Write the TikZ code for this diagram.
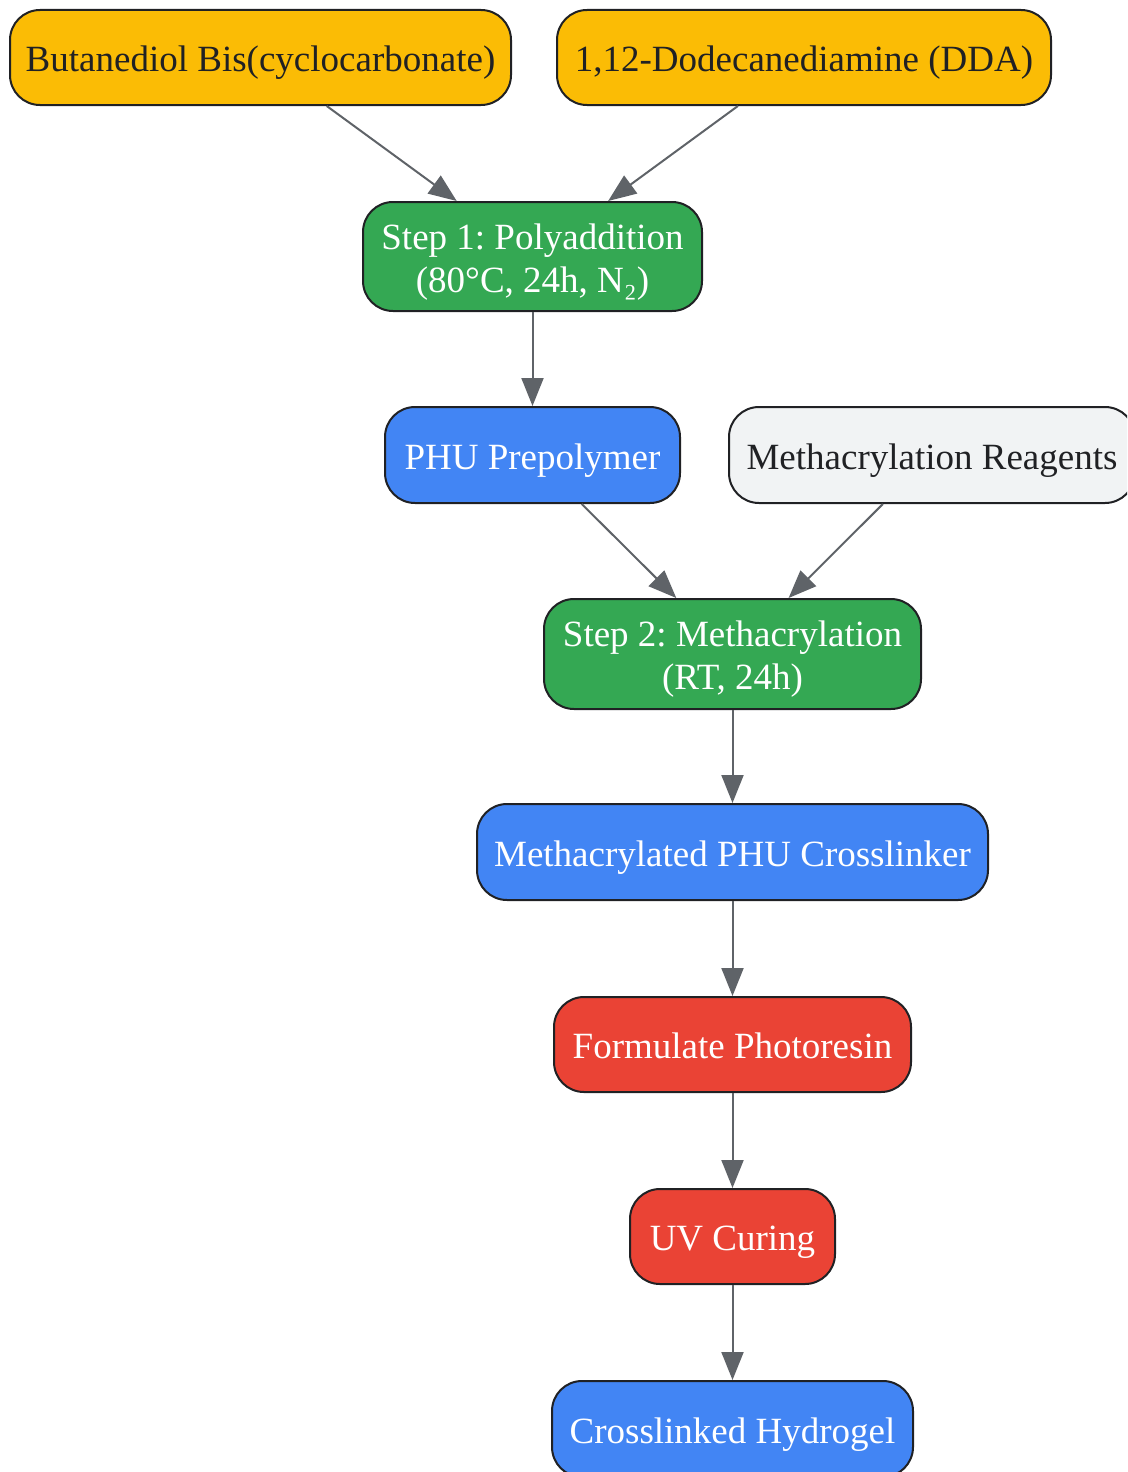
\documentclass[tikz,border=0pt]{standalone}
\usepackage{fontspec}
\setmainfont{Liberation Serif}
\usetikzlibrary{arrows.meta}
\frenchspacing
\definecolor{cyellow}{HTML}{FBBC05}
\definecolor{cgreen}{HTML}{34A853}
\definecolor{cblue}{HTML}{4285F4}
\definecolor{cred}{HTML}{EA4335}
\definecolor{cgray}{HTML}{F1F3F4}
\definecolor{cborder}{HTML}{202124}
\definecolor{cedge}{HTML}{5F6368}
\newcommand{\boxlbl}[1]{\raisebox{-5.5pt}[\height][\depth]{\begin{tabular}{@{}c@{}}#1\end{tabular}}}
\tikzset{
  box/.style={draw=cborder, line width=2pt, rounded corners=30pt, inner sep=0pt,
    font=\fontsize{37}{43}\selectfont\frenchspacing},
  yel/.style={box, fill=cyellow, text=cborder},
  grn/.style={box, fill=cgreen, text=white},
  blu/.style={box, fill=cblue, text=white},
  rd/.style={box, fill=cred, text=white},
  gry/.style={box, fill=cgray, text=cborder},
  edge/.style={draw=cedge, line width=2pt, -{Triangle[length=28pt,width=22pt]}},
}
\begin{document}
\begin{tikzpicture}[x=1pt,y=-1pt]
\useasboundingbox (0,0) rectangle (1127,1472);
\clip (0,0) rectangle (1127,1472);
\node[yel, minimum width=501pt, minimum height=95pt] (b1) at (260.5,57.5) {\boxlbl{Butanediol Bis(cyclocarbonate)}};
\node[yel, minimum width=494pt, minimum height=95pt] (b2) at (804,57.5) {\boxlbl{1,12-Dodecanediamine (DDA)}};
\node[grn, minimum width=339pt, minimum height=109pt] (s1) at (532.5,256.5) {\boxlbl{Step 1: Polyaddition\\(80°C, 24h, N₂)}};
\node[blu, minimum width=295pt, minimum height=96pt] (phu) at (532.5,455) {\boxlbl{PHU Prepolymer}};
\node[gry, minimum width=406pt, minimum height=96pt] (reag) at (932,455) {\boxlbl{Methacrylation Reagents}};
\node[grn, minimum width=377pt, minimum height=110pt] (s2) at (732.5,654) {\boxlbl{Step 2: Methacrylation\\(RT, 24h)}};
\node[blu, minimum width=511pt, minimum height=96pt] (mpc) at (732.5,852) {\boxlbl{Methacrylated PHU Crosslinker}};
\node[rd, minimum width=357pt, minimum height=95pt] (form) at (732.5,1044.5) {\boxlbl{Formulate Photoresin}};
\node[rd, minimum width=205pt, minimum height=95pt] (uv) at (732.5,1236.5) {\boxlbl{UV Curing}};
\node[blu, minimum width=361pt, minimum height=96pt] (hyd) at (732.5,1429) {\boxlbl{Crosslinked Hydrogel}};
\draw[edge] (b1) -- (s1);
\draw[edge] (b2) -- (s1);
\draw[edge] (s1) -- (phu);
\draw[edge] (phu) -- (s2);
\draw[edge] (reag) -- (s2);
\draw[edge] (s2) -- (mpc);
\draw[edge] (mpc) -- (form);
\draw[edge] (form) -- (uv);
\draw[edge] (uv) -- (hyd);
\end{tikzpicture}
\end{document}
